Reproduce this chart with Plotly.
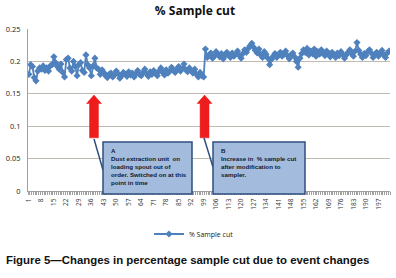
import plotly.graph_objects as go

# ---- data ----
seg_before = [0.180, 0.195, 0.192, 0.175, 0.170, 0.185, 0.190, 0.188, 0.193, 0.186,
              0.190, 0.185, 0.193, 0.195, 0.207, 0.198, 0.192, 0.188, 0.196, 0.183,
              0.176, 0.203, 0.205, 0.190, 0.185, 0.200, 0.192, 0.178, 0.195, 0.198,
              0.186, 0.183, 0.210, 0.195, 0.190, 0.178, 0.193, 0.205, 0.190, 0.188,
              0.180, 0.187]
seg_quiet = [0.183, 0.178, 0.175, 0.180, 0.182, 0.176, 0.179, 0.185, 0.181, 0.174,
             0.178, 0.183, 0.180, 0.177, 0.184, 0.179, 0.182, 0.176, 0.181, 0.186,
             0.180, 0.178, 0.183, 0.188, 0.181, 0.177, 0.184, 0.180, 0.186, 0.182,
             0.178, 0.185, 0.190, 0.183, 0.179, 0.187, 0.182, 0.185, 0.191, 0.186,
             0.183, 0.188, 0.192, 0.185, 0.189, 0.196, 0.187, 0.184, 0.190, 0.186,
             0.182, 0.188, 0.180, 0.176, 0.183, 0.178, 0.176]
seg_after = [0.219, 0.206, 0.210, 0.213, 0.205, 0.208, 0.215, 0.211, 0.207, 0.212,
             0.204, 0.209, 0.214, 0.210, 0.206, 0.213, 0.208, 0.211, 0.216, 0.209,
             0.205, 0.212, 0.218, 0.214, 0.220, 0.224, 0.228, 0.222, 0.217, 0.213,
             0.219, 0.210, 0.206, 0.215, 0.211, 0.205, 0.195, 0.203, 0.208, 0.212,
             0.206, 0.210, 0.214, 0.208, 0.211, 0.216, 0.209, 0.204, 0.210, 0.213,
             0.207, 0.200, 0.191, 0.205, 0.212, 0.218, 0.214, 0.220, 0.210, 0.216,
             0.212, 0.219, 0.208, 0.215, 0.211, 0.218, 0.213, 0.209, 0.216, 0.212,
             0.207, 0.214, 0.210, 0.206, 0.213, 0.209, 0.215, 0.211, 0.205, 0.210,
             0.214, 0.218, 0.212, 0.208, 0.216, 0.229, 0.217, 0.211, 0.206, 0.212,
             0.209, 0.215, 0.218, 0.213, 0.206, 0.211, 0.214, 0.208, 0.212, 0.217,
             0.210, 0.206, 0.213, 0.216]
sample_cut = seg_before + seg_quiet + seg_after
sample_no = list(range(1, len(sample_cut) + 1))

series_name = "% Sample cut"
title_text = "% Sample cut"
caption = "Figure 5\u2014Changes in percentage sample cut due to event changes"
event_a_at = 37.5
event_b_at = 99.5
note_a = "A<br>Dust extraction unit  on<br>loading spout out of<br>order. Switched on at this<br>point in time"
note_b = "B<br>Increase in  % sample cut<br>after modification to<br>sampler."

BLUE = "#4F81BD"
GRID = "#C0BAB4"
RED = "#EE1C1C"
BOX_FILL = "#A3BBDD"
BOX_LINE = "#2F4F7F"

fig = go.Figure()
fig.add_trace(go.Scatter(
    x=sample_no, y=sample_cut, mode="lines+markers", name=series_name,
    line=dict(color=BLUE, width=1.8),
    marker=dict(symbol="diamond", size=5.5, color=BLUE),
))

W, H = 396, 278
PL, PR, PT, PB = 28, 390, 29, 191        # plot area in page pixels
L, T, R, B = PL, PT, W - PR, H - PB
pw, ph = W - L - R, H - T - B

def px(xp):
    return (xp - PL) / pw

def py(yp):
    return (PB - yp) / ph

shapes = []

def arrow(xc):
    hw_shaft = 2.5
    hw_head = 4.2
    tip = 0.148
    base = 0.135
    bottom = 0.082
    path = (f"M {xc} {tip} L {xc + hw_head} {base} L {xc + hw_shaft} {base} "
            f"L {xc + hw_shaft} {bottom} L {xc - hw_shaft} {bottom} L {xc - hw_shaft} {base} "
            f"L {xc - hw_head} {base} Z")
    return dict(type="path", xref="x", yref="y", path=path,
                fillcolor=RED, line=dict(color=RED, width=0.5), layer="above")

shapes.append(arrow(event_a_at))
shapes.append(arrow(event_b_at))

shapes.append(dict(type="line", xref="paper", yref="paper",
                   x0=px(94), y0=py(139), x1=px(103), y1=py(170),
                   line=dict(color=BOX_LINE, width=1.5)))
shapes.append(dict(type="line", xref="paper", yref="paper",
                   x0=px(204), y0=py(138), x1=px(213), y1=py(167),
                   line=dict(color=BOX_LINE, width=1.5)))
shapes.append(dict(type="rect", xref="paper", yref="paper",
                   x0=px(103), x1=px(192), y0=py(194), y1=py(142),
                   fillcolor=BOX_FILL, line=dict(color=BOX_LINE, width=1.5), layer="above"))
shapes.append(dict(type="rect", xref="paper", yref="paper",
                   x0=px(213), x1=px(305), y0=py(194), y1=py(142),
                   fillcolor=BOX_FILL, line=dict(color=BOX_LINE, width=1.5), layer="above"))

box_font = dict(family="Liberation Sans", size=6.2, color="#14182a")
annotations = [
    dict(text="<b>" + note_a + "</b>", xref="paper", yref="paper", x=px(109), y=py(145),
         xanchor="left", yanchor="top", align="left", showarrow=False,
         font=box_font),
    dict(text="<b>" + note_b + "</b>", xref="paper", yref="paper", x=px(219), y=py(145),
         xanchor="left", yanchor="top", align="left", showarrow=False,
         font=box_font),
    dict(text="<b>" + caption + "</b>", xref="paper", yref="paper",
         x=px(4), y=py(260), xanchor="left", yanchor="middle", showarrow=False,
         font=dict(family="Liberation Sans", size=11.4, color="#111111")),
]

fig.update_layout(
    width=W, height=H,
    margin=dict(l=L, r=R, t=T, b=B, autoexpand=False),
    paper_bgcolor="white", plot_bgcolor="white",
    title=dict(text="<b>" + title_text + "</b>", x=195 / W, xref="container",
               xanchor="center", y=1 - 10.5 / H, yanchor="middle", yref="container",
               font=dict(family="Open Sans", size=12, color="#111111")),
    showlegend=True,
    legend=dict(orientation="h", x=px(194), y=py(234), xanchor="center", yanchor="middle",
                font=dict(family="Open Sans", size=7, color="#222222"),
                itemwidth=30, bgcolor="rgba(0,0,0,0)"),
    shapes=shapes,
    annotations=annotations,
    xaxis=dict(range=[0.5, len(sample_cut) + 0.5], tickmode="linear", tick0=1, dtick=7,
               tickangle=-90, tickfont=dict(family="Open Sans", size=6.5, color="#333333"),
               showgrid=False, zeroline=False, showline=True, linecolor="#A0A0A0", linewidth=1,
               ticks="", ticklabelstandoff=4, automargin=False,
               minor=dict(ticks="outside", ticklen=3, tickcolor="#A0A0A0", tick0=0.5, dtick=1)),
    yaxis=dict(range=[0, 0.25], tickmode="linear", tick0=0, dtick=0.05,
               tickfont=dict(family="Open Sans", size=7.5, color="#222222"),
               showgrid=True, gridcolor=GRID, gridwidth=1, zeroline=False,
               showline=True, linecolor="#A0A0A0", linewidth=1, ticks="",
               ticklabelstandoff=5, automargin=False),
)

fig.write_html("out.html",
               config={"displayModeBar": False},
               post_script="document.body.style.margin='0px';document.body.style.overflow='hidden';")
